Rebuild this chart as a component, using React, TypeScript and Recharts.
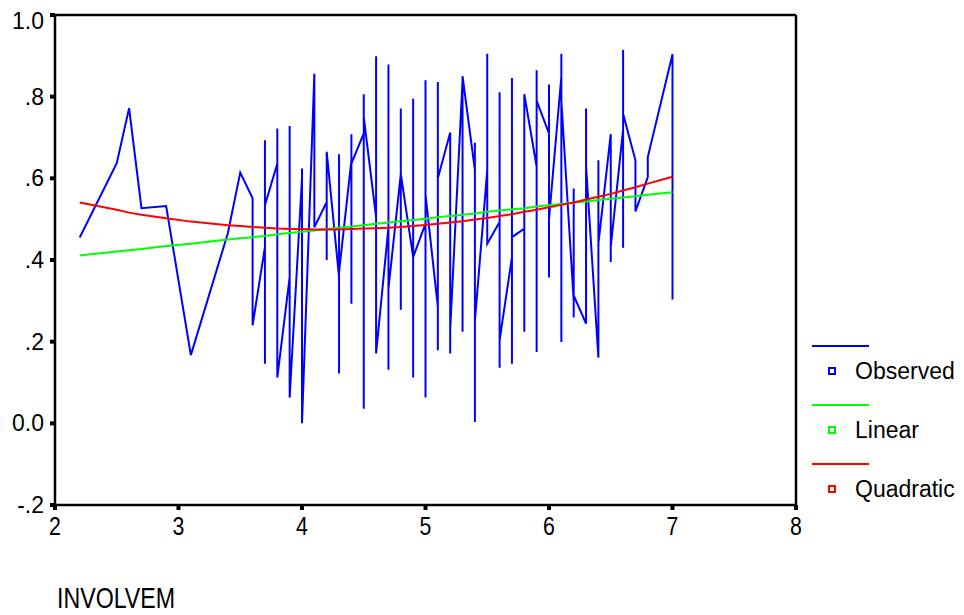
import { LineChart, Line, XAxis, YAxis, ReferenceLine } from "recharts";

const FONT = '"Liberation Sans", Arial, sans-serif';

// observed cases, sorted by INVOLVEM; cases with the same x are visited in order
const observed: [number, number[]][] = [
  [2.2, [0.455]],
  [2.5, [0.637]],
  [2.6, [0.772]],
  [2.7, [0.527]],
  [2.9, [0.532]],
  [3.1, [0.167]],
  [3.4, [0.466]],
  [3.5, [0.614]],
  [3.6, [0.551, 0.24]],
  [3.7, [0.432, 0.146, 0.693, 0.534]],
  [3.8, [0.636, 0.722, 0.112]],
  [3.9, [0.358, 0.728, 0.063]],
  [4.0, [0.6, 0.624, 0.0]],
  [4.1, [0.856, 0.48]],
  [4.2, [0.542, 0.4, 0.665]],
  [4.3, [0.358, 0.659, 0.122, 0.37]],
  [4.4, [0.644, 0.293, 0.708, 0.636]],
  [4.5, [0.71, 0.036, 0.806, 0.75]],
  [4.6, [0.505, 0.899, 0.171]],
  [4.7, [0.48, 0.131, 0.879, 0.33]],
  [4.8, [0.611, 0.278, 0.771, 0.611]],
  [4.9, [0.407, 0.795, 0.112, 0.407]],
  [5.0, [0.489, 0.063, 0.84, 0.56]],
  [5.1, [0.285, 0.836, 0.179, 0.6]],
  [5.2, [0.712, 0.171, 0.23]],
  [5.3, [0.84, 0.224, 0.85]],
  [5.4, [0.62, 0.003, 0.687, 0.25]],
  [5.5, [0.62, 0.905, 0.44]],
  [5.6, [0.493, 0.811, 0.136, 0.203]],
  [5.7, [0.407, 0.846, 0.146, 0.456]],
  [5.8, [0.477, 0.224, 0.806]],
  [5.9, [0.628, 0.175, 0.865, 0.79]],
  [6.0, [0.71, 0.83, 0.357, 0.5]],
  [6.1, [0.85, 0.199, 0.905, 0.79]],
  [6.2, [0.3, 0.575, 0.259, 0.313]],
  [6.3, [0.244, 0.771, 0.63]],
  [6.4, [0.161, 0.644, 0.44]],
  [6.5, [0.708, 0.395, 0.432]],
  [6.6, [0.72, 0.43, 0.914, 0.758]],
  [6.7, [0.644, 0.519]],
  [6.8, [0.603, 0.652]],
  [7.0, [0.904, 0.303]],
];

const fitX = [
  2.2, 2.5, 2.6, 2.7, 2.9, 3.1, 3.4, 3.5, 3.6, 3.7, 3.8, 3.9, 4.0, 4.1, 4.2,
  4.3, 4.4, 4.5, 4.6, 4.7, 4.8, 4.9, 5.0, 5.1, 5.2, 5.3, 5.4, 5.5, 5.6, 5.7,
  5.8, 5.9, 6.0, 6.1, 6.2, 6.3, 6.4, 6.5, 6.6, 6.7, 6.8, 7.0,
];
const linearY = [
  0.411, 0.421, 0.424, 0.427, 0.434, 0.44, 0.45, 0.453, 0.456, 0.459, 0.463,
  0.466, 0.469, 0.472, 0.476, 0.479, 0.482, 0.485, 0.489, 0.492, 0.495, 0.498,
  0.501, 0.505, 0.508, 0.511, 0.514, 0.518, 0.521, 0.524, 0.527, 0.531, 0.534,
  0.537, 0.54, 0.543, 0.547, 0.55, 0.553, 0.556, 0.56, 0.566,
];
const quadraticY = [
  0.541, 0.523, 0.516, 0.511, 0.502, 0.494, 0.485, 0.483, 0.481, 0.479, 0.477,
  0.476, 0.476, 0.475, 0.475, 0.475, 0.476, 0.477, 0.478, 0.479, 0.481, 0.483,
  0.486, 0.489, 0.492, 0.495, 0.499, 0.503, 0.508, 0.512, 0.518, 0.523, 0.529,
  0.535, 0.541, 0.548, 0.555, 0.562, 0.57, 0.578, 0.587, 0.604,
];

const xTicks = [2, 3, 4, 5, 6, 7, 8];
const yTicks = [-0.2, 0, 0.2, 0.4, 0.6, 0.8, 1.0];

const seriesNames = ["Observed", "Linear", "Quadratic"];
const seriesColors = ["#0000ff", "#00ff00", "#ff0000"];

const observedData = observed.flatMap(([x, ys]) => ys.map((y) => ({ x, y })));
const linearData = fitX.map((x, i) => ({ x, y: linearY[i] }));
const quadraticData = fitX.map((x, i) => ({ x, y: quadraticY[i] }));
const seriesData = [observedData, linearData, quadraticData];

const fmtY = (v: number) => {
  if (v === 0) return "0.0";
  if (v === 1) return "1.0";
  return v.toFixed(1).replace(/^(-?)0\./, "$1.");
};

const XTick = ({ x, y, payload }: any) => (
  <text
    transform={`translate(${x},${y}) scale(0.82,1)`}
    textAnchor="middle"
    dy="0.71em"
    fontSize={26}
    fontFamily={FONT}
    fill="#000"
  >
    {payload.value}
  </text>
);

const AxisTitle = ({ viewBox }: any) => (
  <text
    transform={`translate(${viewBox.x + 2},${viewBox.y + 103}) scale(0.8,1)`}
    fontSize={29}
    fontFamily={FONT}
    fill="#000"
  >
    INVOLVEM
  </text>
);

export default function App() {
  return (
    <div style={{ position: "relative", width: 948, height: 607 }}>
      <LineChart
        width={948}
        height={607}
        margin={{ top: 7, right: 160, bottom: 0, left: 0 }}
      >
        <XAxis
          type="number"
          dataKey="x"
          domain={[2, 8]}
          ticks={xTicks}
          allowDuplicatedCategory={false}
          height={110}
          tickSize={5}
          tickMargin={7}
          tick={<XTick />}
          axisLine={{ stroke: "#000", strokeWidth: 2.5 }}
          tickLine={{ stroke: "#000", strokeWidth: 4 }}
          label={<AxisTitle />}
        />
        <YAxis
          type="number"
          dataKey="y"
          domain={[-0.2, 1]}
          ticks={yTicks}
          width={47}
          tickSize={5}
          tickMargin={6}
          tickFormatter={fmtY}
          tick={{ fill: "#000", fontSize: 23, fontFamily: FONT }}
          axisLine={{ stroke: "#000", strokeWidth: 2.5 }}
          tickLine={{ stroke: "#000", strokeWidth: 4 }}
        />
        <ReferenceLine y={1} stroke="#000" strokeWidth={2.5} />
        <ReferenceLine x={8} stroke="#000" strokeWidth={2.5} />
        {seriesNames.map((name, i) => (
          <Line
            key={name}
            name={name}
            data={seriesData[i]}
            dataKey="y"
            type="linear"
            stroke={seriesColors[i]}
            strokeWidth={2}
            dot={false}
            activeDot={false}
            isAnimationActive={false}
          />
        ))}
      </LineChart>
      <div style={{ position: "absolute", left: 800, top: 326 }}>
        {seriesNames.map((name, i) => (
          <div key={name} style={{ position: "relative", height: 59 }}>
            <svg width={160} height={59} style={{ position: "absolute", left: 0, top: 0 }}>
              <line x1={4} x2={61} y1={12} y2={12} stroke={seriesColors[i]} strokeWidth={2} />
              <rect x={21} y={34} width={6} height={6} fill="none" stroke={seriesColors[i]} strokeWidth={2} />
              <text x={47} y={45} fontSize={23} fontFamily={FONT} fill="#000">
                {name}
              </text>
            </svg>
          </div>
        ))}
      </div>
    </div>
  );
}
